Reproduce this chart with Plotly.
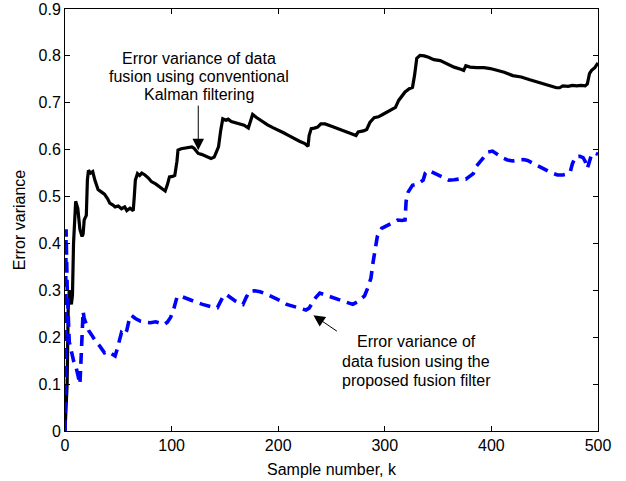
import plotly.graph_objects as go

# Conventional Kalman filtering error variance (black solid)
k_kalman = [0, 1, 2, 3, 4, 5, 6, 7, 8, 10, 12, 14, 16, 17, 18, 19, 20, 21, 22, 24, 26, 28, 31, 34, 37, 40,
            42, 45, 47, 50, 53, 56, 58, 61, 64, 65, 66, 68, 70, 72, 75, 78, 81, 85, 88, 91, 94, 96, 98, 101,
            103, 105, 106, 109, 112, 115, 119, 121, 123, 125, 128, 131, 134, 137, 140, 142, 144, 146, 148,
            151, 153, 156, 160, 164, 168, 172, 174, 176, 180, 185, 190, 195, 200, 205, 210, 215, 220, 225,
            228, 229, 231, 234, 237, 240, 244, 250, 256, 262, 268, 273, 275, 280, 283, 286, 290, 294, 298,
            302, 306, 310, 313, 316, 319, 323, 326, 328, 330, 333, 337, 341, 346, 352, 358, 365, 372, 374,
            376, 380, 386, 393, 399, 405, 412, 420, 428, 436, 444, 452, 458, 461, 464, 467, 472, 476, 480,
            484, 488, 490, 492, 494, 497, 500]
var_kalman = [0.0, 0.07, 0.10, 0.26, 0.30, 0.285, 0.27, 0.29, 0.40, 0.49, 0.475, 0.43, 0.415, 0.42, 0.45,
              0.455, 0.46, 0.535, 0.556, 0.55, 0.553, 0.535, 0.515, 0.51, 0.505, 0.495, 0.486, 0.482, 0.478,
              0.48, 0.474, 0.478, 0.47, 0.475, 0.47, 0.50, 0.535, 0.549, 0.545, 0.55, 0.546, 0.54, 0.532,
              0.527, 0.522, 0.518, 0.512, 0.525, 0.542, 0.543, 0.545, 0.575, 0.599, 0.602, 0.603, 0.605,
              0.606, 0.603, 0.597, 0.592, 0.59, 0.587, 0.584, 0.581, 0.584, 0.595, 0.606, 0.64, 0.666,
              0.663, 0.665, 0.66, 0.657, 0.655, 0.652, 0.646, 0.66, 0.675, 0.668, 0.66, 0.653, 0.647, 0.642,
              0.636, 0.63, 0.623, 0.618, 0.613, 0.607, 0.63, 0.645, 0.646, 0.648, 0.655, 0.655, 0.65, 0.645,
              0.64, 0.635, 0.63, 0.638, 0.64, 0.643, 0.658, 0.668, 0.67, 0.675, 0.68, 0.685, 0.69, 0.705,
              0.713, 0.723, 0.73, 0.733, 0.76, 0.795, 0.801, 0.8, 0.797, 0.792, 0.79, 0.783, 0.776, 0.771,
              0.769, 0.779, 0.776, 0.775, 0.775, 0.773, 0.77, 0.765, 0.758, 0.755, 0.749, 0.743, 0.738,
              0.734, 0.732, 0.732, 0.736, 0.735, 0.737, 0.736, 0.737, 0.736, 0.74, 0.762, 0.769, 0.775, 0.785]

# Proposed fusion filter error variance (blue dashed)
k_fusion = [0, 1, 2, 3, 4, 5, 6, 8, 10, 12, 14, 15, 16, 17, 18, 20, 22, 25, 29, 33, 37, 40, 43, 47, 49, 51,
            53, 56, 58, 60, 62, 66, 71, 76, 80, 85, 89, 93, 96, 99, 102, 105, 108, 113, 118, 124, 129, 134,
            139, 143, 146, 149, 152, 156, 160, 164, 167, 170, 173, 178, 183, 188, 193, 198, 203, 208, 213,
            218, 223, 226, 229, 232, 235, 239, 244, 250, 256, 262, 266, 270, 274, 278, 281, 284, 287, 289,
            291, 293, 297, 301, 305, 308, 312, 316, 319, 320, 322, 326, 331, 336, 338, 341, 345, 350, 355,
            360, 365, 372, 376, 380, 383, 386, 389, 393, 397, 401, 405, 410, 415, 420, 425, 430, 434, 440,
            445, 450, 456, 462, 467, 471, 474, 476, 479, 483, 486, 488, 490, 492, 494, 497, 500]
var_fusion = [0.0, 0.43, 0.31, 0.22, 0.19, 0.18, 0.17, 0.15, 0.14, 0.12, 0.10, 0.15, 0.22, 0.255, 0.24,
              0.224, 0.215, 0.205, 0.19, 0.18, 0.167, 0.17, 0.165, 0.16, 0.175, 0.195, 0.21, 0.205, 0.215,
              0.235, 0.247, 0.24, 0.234, 0.232, 0.231, 0.233, 0.229, 0.227, 0.232, 0.242, 0.26, 0.285, 0.288,
              0.283, 0.279, 0.274, 0.27, 0.266, 0.264, 0.263, 0.275, 0.29, 0.29, 0.283, 0.277, 0.273, 0.27,
              0.285, 0.298, 0.299, 0.297, 0.293, 0.288, 0.283, 0.277, 0.27, 0.266, 0.263, 0.26, 0.258, 0.262,
              0.273, 0.284, 0.294, 0.29, 0.285, 0.281, 0.276, 0.273, 0.27, 0.275, 0.283, 0.288, 0.305, 0.326,
              0.36, 0.395, 0.415, 0.432, 0.437, 0.443, 0.447, 0.45, 0.449, 0.45, 0.49, 0.51, 0.524, 0.527,
              0.535, 0.55, 0.556, 0.552, 0.547, 0.54, 0.535, 0.536, 0.538, 0.537, 0.545, 0.549, 0.565, 0.574,
              0.585, 0.595, 0.597, 0.59, 0.583, 0.578, 0.576, 0.578, 0.579, 0.577, 0.57, 0.563, 0.558, 0.551,
              0.546, 0.546, 0.548, 0.553, 0.57, 0.585, 0.586, 0.583, 0.575, 0.56, 0.575, 0.59, 0.593, 0.59]

x_ticks = [0, 100, 200, 300, 400, 500]
y_ticks = [0, 0.1, 0.2, 0.3, 0.4, 0.5, 0.6, 0.7, 0.8, 0.9]
y_tick_labels = ["0", "0.1", "0.2", "0.3", "0.4", "0.5", "0.6", "0.7", "0.8", "0.9"]

label_kalman = ["Error variance of data", "fusion using conventional", "Kalman filtering"]
label_fusion = ["Error variance of", "data fusion using the", "proposed fusion filter"]

FONT = "Arial, Liberation Sans, Helvetica, sans-serif"

fig = go.Figure()
fig.add_trace(go.Scatter(x=k_kalman, y=var_kalman, mode="lines",
                         line=dict(color="#000000", width=3.2), showlegend=False))
fig.add_trace(go.Scatter(x=k_fusion, y=var_fusion, mode="lines",
                         line=dict(color="#0000ff", width=3.6, dash="11px,7px"), showlegend=False))

annotations = []
for i, t in enumerate(label_kalman):
    annotations.append(dict(x=125.7, y=0.795 - i * 0.039, xref="x", yref="y", text=t, showarrow=False,
                            xanchor="center", yanchor="middle", font=dict(size=16, color="#000000", family=FONT)))
for i, t in enumerate(label_fusion):
    annotations.append(dict(x=329.5, y=0.19 - i * 0.041, xref="x", yref="y", text=t, showarrow=False,
                            xanchor="center", yanchor="middle", font=dict(size=16, color="#000000", family=FONT)))
annotations.append(dict(x=125, y=0.599, xref="x", yref="y", text="", showarrow=True, ax=0, ay=-46,
                        arrowhead=2, arrowsize=2.3, arrowwidth=1, arrowcolor="#000000"))
annotations.append(dict(x=233, y=0.247, xref="x", yref="y", text="", showarrow=True, ax=25, ay=17,
                        arrowhead=2, arrowsize=2.3, arrowwidth=1, arrowcolor="#000000"))

axis_common = dict(showgrid=False, zeroline=False, showline=True, linecolor="#000000", linewidth=1,
                   mirror="allticks", ticks="inside", ticklen=5, tickcolor="#000000", automargin=False,
                   tickfont=dict(size=16, color="#000000", family=FONT))

fig.update_layout(
    width=626, height=481,
    margin=dict(l=65, r=28, t=9, b=50, autoexpand=False),
    paper_bgcolor="#ffffff", plot_bgcolor="#ffffff",
    font=dict(family=FONT, size=16, color="#000000"),
    annotations=annotations,
    xaxis=dict(range=[0, 500], tickvals=x_ticks,
               title=dict(text="Sample number, k", font=dict(size=16, family=FONT), standoff=10),
               **axis_common),
    yaxis=dict(range=[0, 0.9], tickvals=y_ticks, ticktext=y_tick_labels,
               title=dict(text="Error variance", font=dict(size=16, family=FONT), standoff=8),
               **axis_common),
)

# remove the default 8px page margin so the 626x481 figure fills the window exactly
fig.write_html("out.html", config={"displayModeBar": False},
               post_script="document.body.style.margin='0';")
